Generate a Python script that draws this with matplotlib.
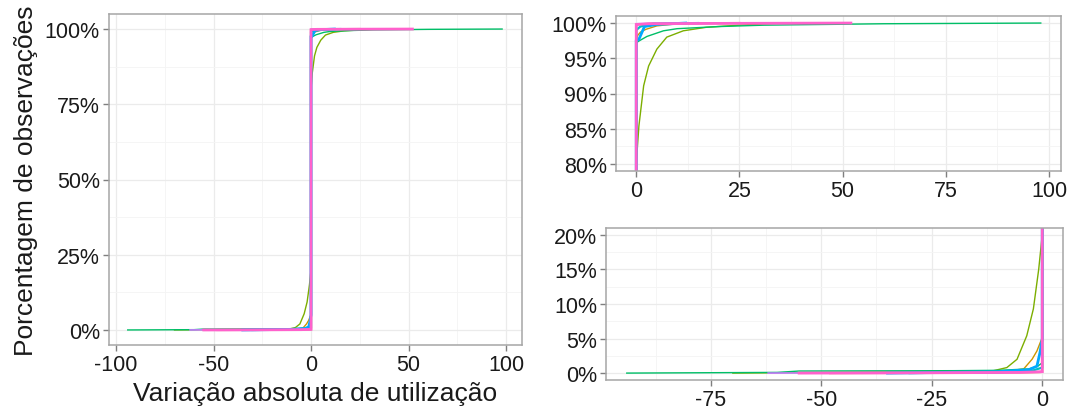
import matplotlib
matplotlib.use("Agg")
import matplotlib.pyplot as plt
from matplotlib.ticker import FuncFormatter, MultipleLocator

plt.rcParams["font.family"] = ["Liberation Sans", "DejaVu Sans"]

# Empirical cumulative distributions of the absolute utilisation change, one per group
groups = ["g1", "g2", "g3", "g4", "g5", "g6", "g7", "g8"]
colors = ["#F8766D", "#CD9600", "#7CAE00", "#00BE67", "#00BFC4", "#00A9FF", "#C77CFF", "#FF61CC"]

x_g1 = [-48, -20, -5, -0.5, 0, 0, 0.5, 3, 10, 25]
y_g1 = [0, 0.0005, 0.001, 0.0015, 0.002, 0.997, 0.998, 0.999, 0.9995, 1.0]

x_g2 = [-40, -15, -8, -4.2, -2.3, -1.2, -0.4, 0, 0, 0.3, 1, 2.3, 5, 10, 20]
y_g2 = [0, 0.001, 0.003, 0.006, 0.02, 0.032, 0.045, 0.05, 0.975, 0.982, 0.987, 0.991, 0.996, 0.999, 1.0]

x_g3 = [-70, -45, -20, -11, -8, -5.7, -3.5, -2, -0.8, 0, 0, 0.65, 1.8, 3, 5, 7.4, 11.4, 17, 25, 35]
y_g3 = [0, 0.001, 0.002, 0.0035, 0.008, 0.02, 0.054, 0.093, 0.15, 0.20, 0.80, 0.854, 0.911, 0.939,
        0.963, 0.98, 0.989, 0.994, 0.997, 1.0]

x_g4 = [-94, -60, -55, -20, -10, -3, -1, 0, 0, 0.8, 2.6, 6.6, 9.9, 20, 31, 60, 98]
y_g4 = [0, 0.001, 0.003, 0.0035, 0.004, 0.006, 0.01, 0.015, 0.972, 0.975, 0.981, 0.989, 0.992,
        0.995, 0.997, 0.999, 1.0]

x_g5 = [-30, -10, -2, 0, 0, 1, 4, 15]
y_g5 = [0, 0.001, 0.004, 0.008, 0.99, 0.995, 0.999, 1.0]

x_g6 = [-35, -10, -3, -1.2, -0.5, 0, 0, 0.65, 2, 5, 12]
y_g6 = [0, 0.002, 0.005, 0.01, 0.03, 0.05, 0.975, 0.977, 0.995, 0.998, 1.0]

x_g7 = [-62, -40, -10, 0, 0, 5, 20, 40]
y_g7 = [0, 0.0005, 0.001, 0.002, 0.999, 0.9995, 0.9998, 1.0]

x_g8 = [-55, -30, -5, 0, 0, 3, 20, 52]
y_g8 = [0, 0.0003, 0.001, 0.002, 0.998, 0.999, 0.9995, 1.0]

xs = [x_g1, x_g2, x_g3, x_g4, x_g5, x_g6, x_g7, x_g8]
ys = [y_g1, y_g2, y_g3, y_g4, y_g5, y_g6, y_g7, y_g8]
widths = [1.6, 1.0, 1.0, 1.0, 1.6, 2.0, 1.2, 2.0]

W, H = 1069, 414
fig = plt.figure(figsize=(W / 100, H / 100), dpi=100)
fig.patch.set_facecolor("white")


def px_axes(left, top, right, bottom):
    return fig.add_axes([left / W, 1 - bottom / H, (right - left) / W, (bottom - top) / H])


pct = FuncFormatter(lambda v, p: f"{v * 100:.0f}%")


def style(ax, xmaj, ymaj, xlim, ylim):
    ax.set_xlim(*xlim)
    ax.set_ylim(*ylim)
    ax.xaxis.set_major_locator(MultipleLocator(xmaj))
    ax.xaxis.set_minor_locator(MultipleLocator(xmaj / 2))
    ax.yaxis.set_major_locator(MultipleLocator(ymaj))
    ax.yaxis.set_minor_locator(MultipleLocator(ymaj / 2))
    ax.yaxis.set_major_formatter(pct)
    ax.xaxis.set_major_formatter(FuncFormatter(lambda v, p: f"{v:.0f}"))
    ax.grid(which="major", color="#ebebeb", linewidth=0.9)
    ax.grid(which="minor", color="#f4f4f4", linewidth=0.6)
    ax.set_axisbelow(True)
    for s in ax.spines.values():
        s.set_color("#a6a6a6")
        s.set_linewidth(1.1)
    ax.tick_params(which="major", length=4, width=1, color="#7f7f7f",
                   labelsize=15.5, labelcolor="#1a1a1a", pad=2.5)
    ax.tick_params(which="minor", length=0)


def draw(ax):
    for x, y, c, lw in zip(xs, ys, colors, widths):
        ax.plot(x, y, color=c, linewidth=lw, solid_joinstyle="miter")


ax1 = px_axes(109, 15, 522, 346)
draw(ax1)
style(ax1, 50, 0.25, (-103.6, 108.2), (-0.05, 1.05))
ax1.set_xlabel("Variação absoluta de utilização", fontsize=19, color="#1a1a1a", labelpad=4)
ax1.set_ylabel("Porcentagem de observações", fontsize=19, color="#1a1a1a", labelpad=5)

ax2 = px_axes(616, 17, 1061, 172)
draw(ax2)
style(ax2, 25, 0.05, (-4.9, 102.9), (0.79, 1.01))

ax3 = px_axes(606, 229, 1063, 381)
draw(ax3)
style(ax3, 25, 0.05, (-98.7, 4.7), (-0.01, 0.21))

fig.savefig("out.png", dpi=100, facecolor="white")
